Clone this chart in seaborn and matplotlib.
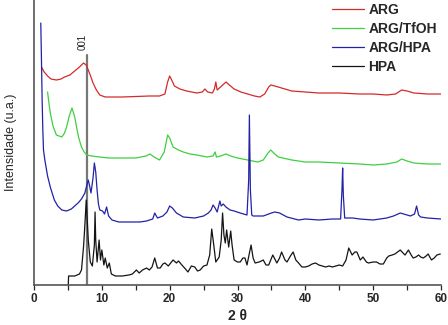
import numpy as np
import pandas as pd
import matplotlib
matplotlib.use("Agg")
import matplotlib.pyplot as plt
import seaborn as sns

# ---- data (2θ, intensity in a.u.) ----
arg_x = [1.1, 1.5, 2.0, 2.5, 3.3, 4.0, 4.5, 5.3, 6.0, 6.7, 7.3, 7.7, 8.0, 8.4, 8.7, 9.2, 9.7, 10.5, 11.2, 13,
         15, 17, 18.5, 19.3, 19.7, 20.0, 20.3, 20.7, 21.5, 22.5, 24.0, 24.8, 25.2, 25.6, 26.3, 26.6, 26.8, 27.0,
         27.5, 28.3, 28.8, 29.5, 30.5, 31.5, 32.5, 33.3, 34.0, 34.6, 34.9, 35.5, 36.5, 38, 40, 42, 45, 48, 50,
         52, 53.3, 54.2, 55, 56, 58, 60]
arg_y = [218, 213, 209, 206, 205, 206, 208, 210, 214, 218, 222, 220, 215, 208, 202, 195, 190, 188, 188, 188,
         188.5, 189, 189, 191, 203, 209, 205, 199, 196, 194, 192, 193, 196, 193, 192, 196, 203, 195,
         198, 203, 200, 196, 193, 191, 189, 188, 191, 198, 200, 199, 197, 194, 193, 192, 192, 191, 191,
         190, 191, 195, 194, 192, 191, 191]

tfoh_x = [2.0, 2.2, 2.4, 2.8, 3.3, 4.1, 4.5, 4.8, 5.2, 5.6, 6.0, 6.3, 6.6, 7.0, 7.4, 7.8, 8.5, 9.7, 11, 13, 15,
          16.5, 17.1, 17.7, 18.5, 19.2, 19.7, 20.0, 20.5, 21.3, 22, 23, 24, 25.5, 26.4, 26.7, 26.9, 27.5, 28.3,
          29, 30, 31.5, 33, 33.8, 34.5, 34.9, 35.5, 36, 38, 40, 42, 45, 48, 50, 52, 53.5, 54.2, 55, 56, 58, 60]
tfoh_y = [193, 182, 172, 159, 150, 148, 152, 158, 169, 177, 168, 157, 147, 138, 133, 130, 129, 128, 127, 127, 127,
          129, 131, 128, 125, 133, 150, 147, 138, 135, 133, 131, 130, 128, 129, 133, 128, 129, 131,
          129, 127, 125, 123, 125, 132, 135, 131, 128, 125, 123, 123, 122, 121, 120, 121, 123, 126, 124, 122, 121, 121]

hpa_arg_x = [1.0, 1.1, 1.2, 1.3, 1.4, 1.6, 2.0, 2.4, 3.0, 3.5, 4.1, 4.8, 5.5, 6.0, 6.5, 7.0, 7.5, 7.8, 8.0, 8.2,
             8.4, 8.7, 8.9, 9.1, 9.3, 9.5, 9.7, 10.1, 10.4, 10.7, 11.0, 11.5, 12.5, 14, 15.6, 16.6, 17.5, 17.8,
             18.2, 19, 19.6, 20.0, 20.4, 21, 22, 23.7, 25, 25.7, 26.1, 26.4, 26.7, 27.0, 27.4, 27.6, 27.9, 28.3,
             28.9, 29.5, 30.4, 31.4, 31.65, 31.75, 31.9, 32.1, 32.3, 33.8, 35, 35.5, 36.2, 37.3, 39, 40, 42, 44,
             45.2, 45.4, 45.5, 45.6, 45.8, 47, 48, 50, 52, 53, 54, 55, 55.5, 56.1, 56.4, 56.7, 57, 58, 60]
hpa_arg_y = [262, 225, 185, 155, 135, 125, 109, 98, 85, 79, 75, 74, 76, 79, 82, 86, 92, 100, 105, 99,
             92, 107, 122, 113, 95, 81, 75, 74, 71, 78, 69, 65, 63, 63, 63, 64, 66, 72,
             67, 69, 73, 79, 77, 72, 68, 67, 69, 72, 75, 80, 77, 73, 84, 79, 81, 78,
             75, 74, 72, 70, 105, 170, 95, 70, 69, 69, 72, 73, 72, 68, 65, 66, 65, 66,
             66, 95, 117, 90, 67, 67, 66, 65, 67, 69, 72, 70, 69, 71, 79, 70, 68, 67, 66]

hpa_x = [5.05, 5.1, 6.0, 6.7, 7.0, 7.3, 7.5, 7.7, 8.0, 8.3, 8.6, 8.9, 9.0, 9.1, 9.3, 9.6, 9.8, 10.0, 10.3, 10.5,
         10.8, 11.1, 11.4, 12, 13, 14, 14.5, 15.1, 15.5, 16, 16.6, 17, 17.4, 17.8, 18.2, 18.6, 19.0, 19.3, 19.8,
         20.5, 21.0, 21.3, 21.8, 22.2, 22.7, 23.2, 23.7, 24.1, 24.5, 25.0, 25.5, 25.9, 26.2, 26.5, 26.8, 27.3,
         27.6, 27.8, 28.0, 28.2, 28.4, 28.7, 29.0, 29.2, 29.5, 30.0, 30.4, 30.8, 31.1, 31.4, 31.7, 32.0, 32.3,
         32.6, 33.2, 33.8, 34.2, 34.6, 35.2, 35.8, 36.2, 36.5, 37.0, 37.3, 37.8, 38.2, 38.6, 39.0, 39.5, 40,
         40.5, 41.0, 41.5, 42.0, 42.5, 43.0, 43.5, 44, 44.5, 45, 45.5, 46.0, 46.4, 46.9, 47.3, 47.6, 48.1, 48.5,
         49.0, 49.3, 50.0, 50.5, 51.0, 51.5, 52.0, 52.3, 52.8, 53.2, 53.6, 54.0, 54.4, 54.7, 55.2, 55.6, 55.9,
         56.3, 56.7, 57.0, 57.4, 57.8, 58.1, 58.6, 59.0, 59.4, 59.9]
hpa_y = [0, 9, 9, 11, 15, 38, 60, 85, 45, 23, 19, 40, 73, 45, 23, 45, 25, 35, 20, 27,
         17, 22, 11, 9, 9, 10, 11, 15, 12, 15, 17, 15, 18, 27, 17, 17, 21, 22, 19,
         25, 22, 24, 20, 17, 13, 19, 18, 14, 15, 19, 20, 30, 56, 40, 23, 28,
         45, 72, 50, 42, 55, 38, 54, 40, 25, 23, 23, 27, 27, 20, 30, 40, 27,
         22, 23, 25, 20, 20, 30, 22, 27, 33, 25, 23, 29, 33, 25, 22, 18, 18,
         19, 21, 22, 20, 19, 18, 19, 18, 19, 20, 19, 25, 37, 30, 33, 33, 25, 28,
         23, 22, 23, 23, 21, 21, 27, 29, 30, 31, 33, 35, 32, 30, 35, 30, 27,
         28, 30, 28, 27, 29, 31, 25, 27, 30, 31]

series_names = ["ARG", "ARG/TfOH", "ARG/HPA", "HPA"]
series_colors = ["#d42a2a", "#3fcf3f", "#2222a8", "#141414"]
peak_001 = 7.8
peak_001_top = 230
x_ticks = [0, 10, 20, 30, 40, 50, 60]
x_minor = [5, 15, 25, 35, 45, 55]

frames = []
for name, xs, ys in zip(series_names, [arg_x, tfoh_x, hpa_arg_x, hpa_x], [arg_y, tfoh_y, hpa_arg_y, hpa_y]):
    frames.append(pd.DataFrame({"2θ": xs, "I": ys, "amostra": name}))
df = pd.concat(frames, ignore_index=True)

sns.set_style("white")
plt.rcParams["font.family"] = ["Liberation Sans", "DejaVu Sans"]

fig = plt.figure(figsize=(4.48, 3.25), dpi=100)
ax = fig.add_axes([34 / 448, 40 / 325, 407 / 448, 285 / 325])

# 001 reference line
ax.plot([peak_001, peak_001], [0, peak_001_top], color="#777777", lw=1.6, zorder=1)
ax.text(peak_001 - 0.7, 243, "001", rotation=90, ha="center", va="center", fontsize=7, color="#222222")

sns.lineplot(data=df, x="2θ", y="I", hue="amostra", hue_order=series_names,
             palette=dict(zip(series_names, series_colors)), estimator=None, sort=False,
             linewidth=0.9, ax=ax, zorder=2)

ax.set_xlim(0, 60)
ax.set_ylim(0, 285)
ax.set_yticks([])
ax.set_xticks(x_ticks)
ax.set_xticks(x_minor, minor=True)
ax.set_xticklabels([str(t) for t in x_ticks], fontweight="bold", fontsize=8.5)
ax.tick_params(axis="x", which="both", direction="out", length=3.5, width=0.9, bottom=True, pad=2)
for s in ["top", "right"]:
    ax.spines[s].set_visible(False)
for s in ["left", "bottom"]:
    ax.spines[s].set_color("#555555")
    ax.spines[s].set_linewidth(1.2)

ax.set_xlabel("2 θ", fontsize=10, fontweight="bold", labelpad=3)
ax.set_ylabel("Intensidade (u.a.)", fontsize=9, labelpad=12)

leg = ax.legend(loc="upper right", frameon=False, handlelength=2.3, handletextpad=0.3,
                labelspacing=0.35, borderaxespad=0, borderpad=0,
                prop={"weight": "bold", "size": 10},
                bbox_to_anchor=(437 / 448, 322 / 325), bbox_transform=fig.transFigure)
for line in leg.get_lines():
    line.set_linewidth(0.9)

fig.savefig("out.png", dpi=100)
